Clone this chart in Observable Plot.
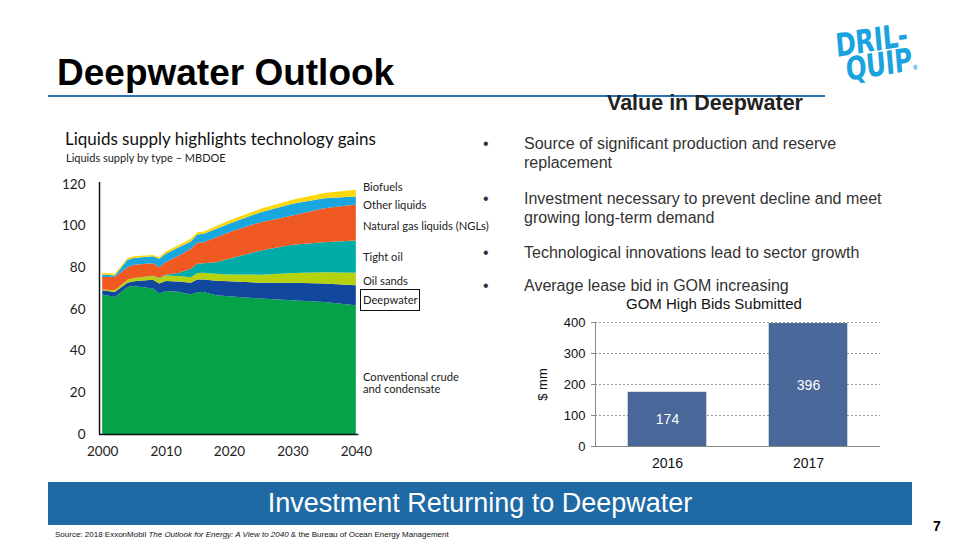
<!DOCTYPE html>
<html><head><meta charset="utf-8">
<script src="https://cdn.jsdelivr.net/npm/d3@7"></script>
<script src="https://cdn.jsdelivr.net/npm/@observablehq/plot@0.6"></script>
<style>
html,body{margin:0;padding:0;background:#fff;}
#slide{position:relative;width:960px;height:540px;overflow:hidden;font-family:"Liberation Sans",Arial,sans-serif;color:#000;}
.abs{position:absolute;white-space:nowrap;}
.lab{position:absolute;font-family:Lato,"Open Sans",sans-serif;font-size:11.2px;color:#222;line-height:12px;white-space:nowrap;}
.bul{position:absolute;left:483px;font-size:16px;color:#333;line-height:19px;}
.bul span{position:absolute;left:41px;white-space:nowrap;}
</style></head>
<body><div id="slide">
<div class="abs" style="left:57px;top:52px;font-size:37px;font-weight:bold;">Deepwater Outlook</div>
<div class="abs" style="left:48px;top:95px;width:777px;height:2px;background:#2b73b6;"></div>
<div class="abs" style="left:607px;top:91px;font-size:21.5px;font-weight:bold;color:#222;">Value in Deepwater</div>
<div class="abs" style="left:837px;top:34px;font-family:'DejaVu Sans Condensed','DejaVu Sans';font-stretch:condensed;font-weight:bold;font-size:32px;line-height:25px;color:#1ba3df;transform:rotate(-9deg) skewX(-4deg) scaleX(0.86);transform-origin:0 50%;letter-spacing:-0.5px;">DRIL-<br>&nbsp;QUIP<span style="font-size:7px;">®</span></div>

<div class="abs" style="left:65px;top:128px;font-family:Lato,sans-serif;font-size:17px;color:#111;">Liquids supply highlights technology gains</div>
<div class="abs" style="left:66px;top:151px;font-family:Lato,sans-serif;font-size:11px;color:#222;">Liquids supply by type – MBDOE</div>
<div id="area" class="abs" style="left:60px;top:175px;"></div>
<div class="lab" style="left:363px;top:181px;">Biofuels</div>
<div class="lab" style="left:363px;top:199px;">Other liquids</div>
<div class="lab" style="left:363px;top:220px;">Natural gas liquids (NGLs)</div>
<div class="lab" style="left:363px;top:251px;">Tight oil</div>
<div class="lab" style="left:363px;top:275px;">Oil sands</div>
<div class="lab" style="left:360px;top:289px;width:58px;height:20px;border:1.5px solid #111;"></div>
<div class="lab" style="left:363px;top:294px;">Deepwater</div>
<div class="lab" style="left:363px;top:371px;">Conventional crude<br>and condensate</div>

<div class="bul" style="top:134px;">•<span>Source of significant production and reserve<br>replacement</span></div>
<div class="bul" style="top:189px;">•<span>Investment necessary to prevent decline and meet<br>growing long-term demand</span></div>
<div class="bul" style="top:243px;">•<span>Technological innovations lead to sector growth</span></div>
<div class="bul" style="top:276px;">•<span>Average lease bid in GOM increasing</span></div>

<div class="abs" style="left:626px;top:295px;font-size:15px;color:#111;">GOM High Bids Submitted</div>
<div id="bars" class="abs" style="left:530px;top:310px;"></div>

<div class="abs" style="left:48px;top:482px;width:864px;height:43px;background:#1f69a4;"></div>
<div class="abs" style="left:48px;top:488px;width:864px;text-align:center;font-size:27px;color:#fff;">Investment Returning to Deepwater</div>
<div class="abs" style="left:933px;top:518px;font-size:14px;font-weight:bold;">7</div>
<div class="abs" style="left:55px;top:530px;font-size:8px;color:#111;">Source: 2018 ExxonMobil <i>The Outlook for Energy: A View to 2040</i> &amp; the Bureau of Ocean Energy Management</div>
</div>
<script>
// Liquids supply by type (MBDOE)
const years = [2000,2002,2004,2005,2008,2009,2010,2012,2014,2015,2016,2018,2020,2025,2030,2035,2040];
const conventional = [67.0,65.8,70.6,71.0,69.8,67.4,68.6,68.3,67.0,68.0,68.2,66.6,66.1,65.0,64.2,63.4,61.8];
const deepwater    = [2.0,2.4,2.0,2.3,4.2,4.8,4.8,4.9,5.6,6.2,6.0,7.0,7.2,7.6,8.4,8.9,9.6];
const oilSands     = [0.4,0.8,1.4,1.6,1.8,2.5,2.7,2.7,2.7,3.1,3.2,3.3,3.3,3.9,4.7,5.4,6.0];
const tightOil     = [0,0,0,0,0.2,0.2,0.4,1.4,4.0,4.4,4.6,5.6,7.5,11.6,13.5,14.4,15.5];
const ngl          = [6.0,6.4,6.1,6.4,6.0,5.2,6.0,8.2,9.6,10.1,10.1,12.0,12.8,13.6,14.1,16.3,17.3];
const otherLiquids = [1.2,0.7,3.6,3.2,3.3,4.0,4.0,4.0,3.5,4.0,4.0,4.0,4.0,4.8,5.6,4.8,3.8];
const biofuels     = [0.8,0.8,0.8,0.8,0.6,0.8,1.1,1.1,1.3,1.1,1.1,1.4,1.6,1.6,1.9,2.5,3.3];
const types  = ["Conventional","Deepwater","Oil sands","Tight oil","NGLs","Other liquids","Biofuels"];
const series = [conventional,deepwater,oilSands,tightOil,ngl,otherLiquids,biofuels];
const colors = ["#05a24a","#11479c","#b6d20f","#00aca7","#f05a22","#1aa6df","#fcd80a"];
const yTicks = [0,20,40,60,80,100,120];
const xTicks = [2000,2010,2020,2030,2040];

// GOM high bids submitted ($ mm)
const bidYears = ["2016","2017"];
const bids = [174,396];
const bidTicks = [0,100,200,300,400];

const rows = [];
types.forEach((t,i)=>years.forEach((y,j)=>rows.push({type:t,year:y,value:series[i][j]})));

const area = Plot.plot({
  width:330, height:290, marginLeft:39, marginRight:31, marginTop:9, marginBottom:31,
  style:{fontFamily:"Lato, 'Open Sans', sans-serif", fontSize:"13.5px", color:"#222", overflow:"visible"},
  x:{domain:[1999.5,2040.5], ticks:xTicks, tickFormat:d=>String(d)},
  y:{domain:[0,120], ticks:yTicks},
  color:{domain:types, range:colors},
  marks:[
    Plot.areaY(rows,{x:"year", y:"value", fill:"type", order:types}),
    Plot.axisX({ticks:xTicks, tickSize:0, tickPadding:12, label:null, tickFormat:d=>String(d)}),
    Plot.axisY({ticks:yTicks, tickSize:0, tickPadding:14, label:null}),
    Plot.ruleX([1999.5],{y1:0, y2:121, stroke:"#111", strokeWidth:1.5}),
    Plot.ruleY([0],{x1:1999.5, x2:2040.4, stroke:"#111", strokeWidth:1.5})
  ]
});
document.getElementById("area").appendChild(area);

const bidRows = bidYears.map((y,i)=>({year:y, value:bids[i]}));
const bars = Plot.plot({
  width:360, height:170, marginLeft:65, marginRight:10, marginTop:12, marginBottom:34,
  style:{fontFamily:"'Liberation Sans', Arial, sans-serif", fontSize:"13px", color:"#111"},
  x:{domain:bidYears, paddingInner:0.45, paddingOuter:0.23},
  y:{domain:[0,400], ticks:bidTicks},
  marks:[
    Plot.ruleY(bidTicks.slice(1),{stroke:"#999", strokeDasharray:"2,2"}),
    Plot.barY(bidRows,{x:"year", y:"value", fill:"#4a6899", stroke:"#3a5580", strokeWidth:0.5}),
    Plot.text(bidRows,{x:"year", y:d=>d.value/2, text:d=>String(d.value), fill:"#fff", fontSize:14}),
    Plot.ruleY([0],{stroke:"#888"}),
    Plot.frame({anchor:"left", stroke:"#888"}),
    Plot.axisX({tickSize:0, tickPadding:12, label:null, fontSize:14}),
    Plot.axisY({ticks:bidTicks, tickSize:4, tickPadding:6, stroke:"#888", label:"$ mm", labelAnchor:"center", labelArrow:"none", labelOffset:58, fontSize:13})
  ]
});
document.getElementById("bars").appendChild(bars);
</script>
</body></html>
